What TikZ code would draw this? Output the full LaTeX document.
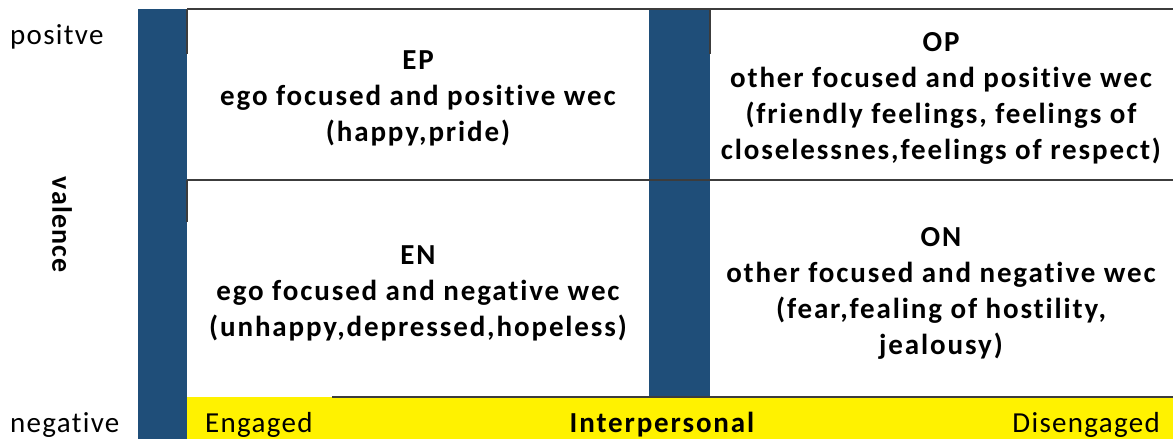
\documentclass[tikz,border=0pt]{standalone}
\usepackage{fontspec}
\setmainfont{Carlito}[Ligatures=CommonOff,LetterSpace=4.5]
\newfontfamily\widebold{Carlito}[Ligatures=CommonOff,LetterSpace=6.5]
\definecolor{barblue}{RGB}{31,78,121}
\definecolor{rulegray}{RGB}{60,60,60}
\begin{document}
\begin{tikzpicture}[x=1pt,y=-1pt,
  rule/.style={draw=rulegray,line width=2pt},
  celltext/.style={align=center,font=\widebold\bfseries\fontsize{29}{36}\selectfont,inner sep=0pt},
  sidelabel/.style={font=\fontsize{29}{34}\selectfont,inner sep=0pt},
  bandlabel/.style={font=\fontsize{29}{34}\selectfont,inner sep=0pt}]
\useasboundingbox (0,0) rectangle (1173,439);
\fill[white] (0,0) rectangle (1173,439);

% dark bars and the yellow band
\fill[barblue] (138,9) rectangle (187,439);
\fill[barblue] (649,9) rectangle (710,397);
\fill[yellow] (187,397) rectangle (1173,439);

% grid rules
\coordinate (tl) at (187,9);
\coordinate (tr) at (1173,9);
\coordinate (ml) at (187,180);
\coordinate (mr) at (1173,180);
\coordinate (bl) at (332,397);
\coordinate (br) at (1173,397);
\coordinate (tickA) at (187,54);
\coordinate (tickB1) at (710,9);
\coordinate (tickB2) at (710,54);
\coordinate (tickC) at (187,222);
\draw[rule] (tl) -- (tr);
\draw[rule] (ml) -- (mr);
\draw[rule] (bl) -- (br);
\draw[rule] (tl) -- (tickA);
\draw[rule] (tickB1) -- (tickB2);
\draw[rule] (ml) -- (tickC);

% axis labels
\node[sidelabel,anchor=west] (pos) at (10,37) {positve};
\node[sidelabel,anchor=west] (neg) at (10,425) {negative};
\node[sidelabel,font=\bfseries\fontsize{28}{34}\selectfont,rotate=-90] (val) at (62,225) {valence};

% quadrant texts
\node[celltext] (EP) at (418,98) {EP\\ego focused and positive wec\\(happy,pride)};
\node[celltext] (OP) at (941,98) {OP\\other focused and positive wec\\(friendly feelings, feelings of\\closelessnes,feelings of respect)};
\node[celltext] (EN) at (418,293) {EN\\ego focused and negative wec\\(unhappy,depressed,hopeless)};
\node[celltext] (ON) at (941,293) {ON\\other focused and negative wec\\(fear,fealing of hostility,\\jealousy)};

% band labels
\node[bandlabel,anchor=west] (eng) at (205,425) {Engaged};
\node[bandlabel,font=\widebold\bfseries\fontsize{29}{34}\selectfont] (inter) at (662,425) {Interpersonal};
\node[bandlabel,anchor=east] (dis) at (1160,425) {Disengaged};
\end{tikzpicture}
\end{document}
